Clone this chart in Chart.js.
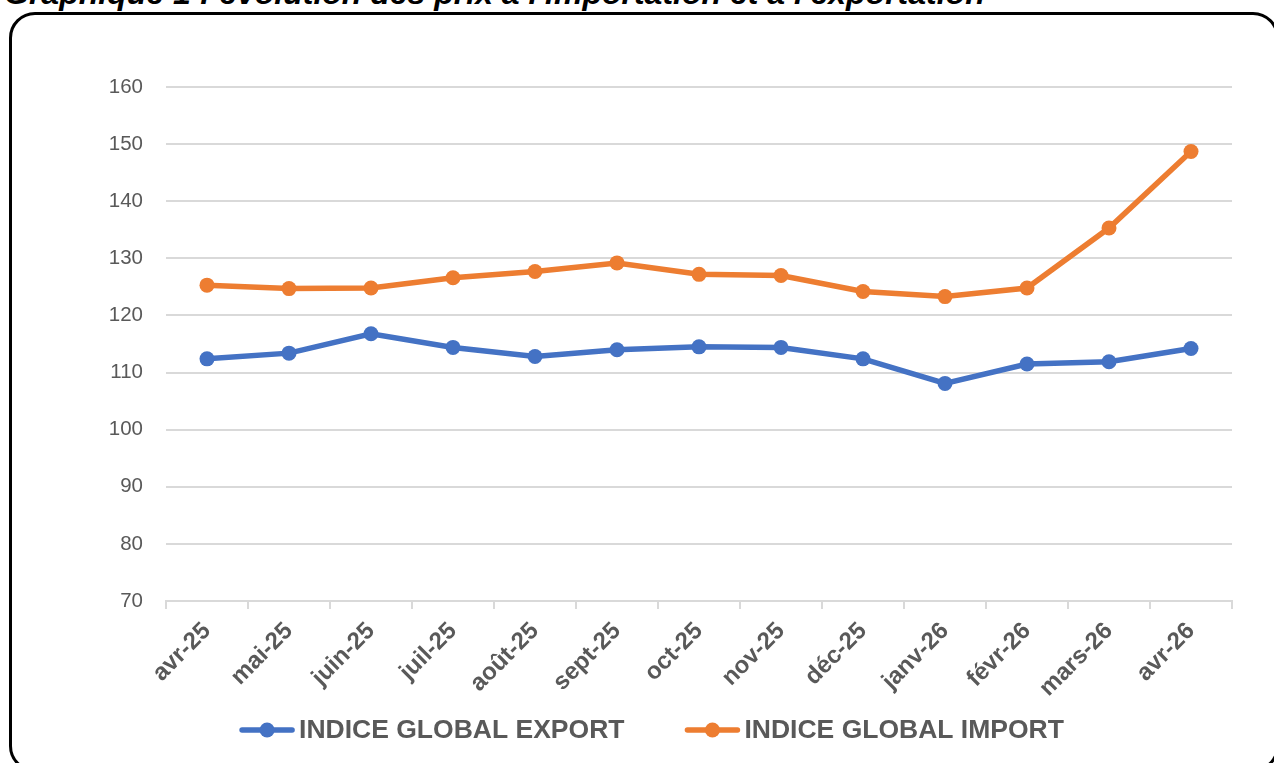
<!DOCTYPE html>
<html>
<head>
<meta charset="utf-8">
<script src="https://cdn.jsdelivr.net/npm/chart.js@4.4.1/dist/chart.umd.min.js"></script>
<style>
  html, body { margin: 0; padding: 0; background: #fff; overflow: hidden; }
  body { width: 1274px; height: 763px; position: relative; }
  #title { position: absolute; left: 4px; top: -23px; font: italic bold 32px "Liberation Sans", Arial, sans-serif; line-height: 32px; white-space: nowrap; color: #000; }
  #frame { position: absolute; left: 9px; top: 12px; width: 1270px; height: 760px; border: 3px solid #000; border-radius: 26px; box-sizing: border-box; }
  #wrap { position: absolute; left: 0; top: 0; width: 1274px; height: 763px; }
</style>
</head>
<body>
<div id="title">Graphique 1 : évolution des prix à l'importation et à l'exportation</div>
<div id="frame"></div>
<div id="wrap"><canvas id="c" width="1274" height="763"></canvas></div>
<script>
const categories = ["avr-25","mai-25","juin-25","juil-25","août-25","sept-25","oct-25","nov-25","déc-25","janv-26","févr-26","mars-26","avr-26"];
const exportValues = [112.4, 113.4, 116.8, 114.4, 112.8, 114.0, 114.5, 114.4, 112.4, 108.1, 111.5, 111.9, 114.2];
const importValues = [125.3, 124.7, 124.8, 126.6, 127.7, 129.2, 127.2, 127.0, 124.2, 123.3, 124.8, 135.3, 148.7];
const seriesNames = ["INDICE GLOBAL EXPORT", "INDICE GLOBAL IMPORT"];
const yTicks = [70, 80, 90, 100, 110, 120, 130, 140, 150, 160];

const BLUE = '#4472C4', ORANGE = '#ED7D31', GREY = '#595959', GRID = '#d9d9d9';

const legendPlugin = {
  id: 'customLegend',
  afterDraw(chart) {
    const ctx = chart.ctx;
    const ds = chart.data.datasets;
    ctx.save();
    ctx.font = 'bold 26.5px "Liberation Sans", Arial, sans-serif';
    const lineLen = 56, gapText = 4, gapItem = 60;
    const widths = ds.map(d => ctx.measureText(d.label).width);
    let total = 0;
    widths.forEach((w, i) => { total += lineLen + gapText + w + (i ? gapItem : 0); });
    let x = 651.5 - total / 2;
    const y = 730;
    ds.forEach((d, i) => {
      ctx.strokeStyle = d.borderColor;
      ctx.lineWidth = 5.5;
      ctx.lineCap = 'round';
      ctx.beginPath(); ctx.moveTo(x + 3, y); ctx.lineTo(x + lineLen - 3, y); ctx.stroke();
      ctx.fillStyle = d.borderColor;
      ctx.beginPath(); ctx.arc(x + lineLen / 2, y, 7.5, 0, Math.PI * 2); ctx.fill();
      ctx.fillStyle = GREY;
      ctx.textBaseline = 'middle';
      ctx.textAlign = 'left';
      ctx.fillText(d.label, x + lineLen + gapText, y + 1);
      x += lineLen + gapText + widths[i] + gapItem;
    });
    ctx.restore();
  }
};

new Chart(document.getElementById('c'), {
  type: 'line',
  data: {
    labels: categories,
    datasets: [
      { label: seriesNames[0], data: exportValues, borderColor: BLUE, backgroundColor: BLUE, borderWidth: 5.5, pointRadius: 7.5, pointBackgroundColor: BLUE, pointBorderWidth: 0, tension: 0 },
      { label: seriesNames[1], data: importValues, borderColor: ORANGE, backgroundColor: ORANGE, borderWidth: 5.5, pointRadius: 7.5, pointBackgroundColor: ORANGE, pointBorderWidth: 0, tension: 0 }
    ]
  },
  options: {
    responsive: false,
    animation: false,
    devicePixelRatio: 1,
    layout: { padding: { left: 0, right: 42, top: 87, bottom: 0 } },
    plugins: { legend: { display: false }, tooltip: { enabled: false }, title: { display: false } },
    scales: {
      x: {
        type: 'category',
        offset: true,
        grid: { offset: true, drawOnChartArea: false, drawTicks: true, tickLength: 8, color: GRID, lineWidth: 2 },
        border: { display: true, color: GRID, width: 2 },
        ticks: { color: GREY, font: { family: '"Liberation Sans", Arial, sans-serif', size: 24, weight: 'bold' }, minRotation: 45, maxRotation: 45, padding: 8, autoSkip: false },
        afterFit(scale) { scale.height = 162; }
      },
      y: {
        min: yTicks[0],
        max: yTicks[yTicks.length - 1],
        afterBuildTicks(scale) { scale.ticks = yTicks.map(v => ({ value: v })); },
        grid: { drawTicks: false, color: GRID, lineWidth: 2 },
        border: { display: false },
        ticks: { color: GREY, font: { family: '"Liberation Sans", Arial, sans-serif', size: 20.5 }, padding: 23 },
        afterFit(scale) { scale.width = 166; }
      }
    }
  },
  plugins: [legendPlugin]
});
</script>
</body>
</html>
